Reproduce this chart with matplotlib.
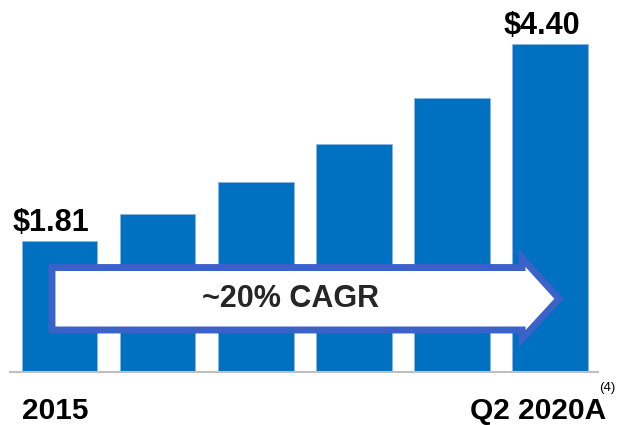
import matplotlib.pyplot as plt
import matplotlib.patheffects as pe
from matplotlib.patches import Polygon

# values (only first and last are labelled)
years = ["2015", "2016", "2017", "2018", "2019", "Q2 2020A"]
values = [1.81, 2.16, 2.58, 3.08, 3.69, 4.40]
value_labels = {0: "$1.81", 5: "$4.40"}
cagr_text = "~20% CAGR"

BAR_COLOR = "#0070C0"
ARROW_EDGE = "#3A62C8"
TEXT_COLOR = "#000000"

plt.rcParams["font.family"] = ["Liberation Sans", "DejaVu Sans"]

fig = plt.figure(figsize=(6.18, 4.25), dpi=100)
ax = fig.add_axes([10 / 618, 53 / 425, 588 / 618, 372 / 425])

x = list(range(len(values)))
width = 0.77
ax.bar(x, values, width=width, color=BAR_COLOR, edgecolor="#8DB4E2",
       linewidth=0.6, zorder=2)

ax.set_xlim(-0.505, 5.489)
ax.set_ylim(0.092, 0.092 + 372 / 76.25)

for side in ["top", "right", "left"]:
    ax.spines[side].set_visible(False)
ax.spines["bottom"].set_color("#BFBFBF")
ax.spines["bottom"].set_linewidth(1.5)
ax.set_xticks([])
ax.set_yticks([])

# value labels above first and last bars
for idx, label in value_labels.items():
    ax.annotate(label, xy=(x[idx], values[idx]), xytext=(-6, 7),
                textcoords="offset points", ha="center", va="baseline",
                fontsize=22, fontweight="bold", color=TEXT_COLOR)

# category labels, only at the ends
ax.annotate(years[0], xy=(x[0] - width / 2, 0), xycoords=("data", "axes fraction"),
            xytext=(0, -34), textcoords="offset points", ha="left",
            va="baseline", fontsize=21.5, fontweight="bold", color=TEXT_COLOR)
ax.annotate(years[-1], xy=(x[-1] + width / 2, 0), xycoords=("data", "axes fraction"),
            xytext=(13, -34), textcoords="offset points", ha="right",
            va="baseline", fontsize=21.5, fontweight="bold", color=TEXT_COLOR)
ax.annotate("(4)", xy=(x[-1] + width / 2, 0), xycoords=("data", "axes fraction"),
            xytext=(8.5, -13.5), textcoords="offset points", ha="left",
            va="baseline", fontsize=9.5, color=TEXT_COLOR)

# CAGR arrow across the bars
body_top, body_bottom = 1.462, 0.643
head_top, head_bottom = 1.587, 0.525
tail_x, head_x, tip_x = -0.077, 4.715, 5.092
arrow_pts = [
    (tail_x, body_top), (head_x, body_top), (head_x, head_top),
    (tip_x, (body_top + body_bottom) / 2),
    (head_x, head_bottom), (head_x, body_bottom), (tail_x, body_bottom),
]
arrow = Polygon(arrow_pts, closed=True, facecolor="white", edgecolor=ARROW_EDGE,
                linewidth=5, joinstyle="miter", zorder=3)
arrow.set_path_effects([pe.SimplePatchShadow(offset=(2, -2), alpha=0.25),
                        pe.Normal()])
ax.add_patch(arrow)

ax.text(2.35, (body_top + body_bottom) / 2, cagr_text, ha="center", va="center",
        fontsize=22, fontweight="bold", color="#262626", zorder=4)

fig.savefig("out.png", dpi=100)
